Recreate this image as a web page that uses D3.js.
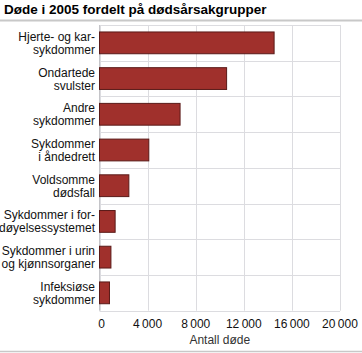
<!DOCTYPE html>
<html>
<head>
<meta charset="utf-8">
<script src="https://d3js.org/d3.v7.min.js"></script>
<style>
  body { margin: 0; background: #fff; }
  text { font-family: "Liberation Sans", Arial, sans-serif; }
</style>
</head>
<body>
<div id="chart"></div>
<script>
  let title = 'Døde i 2005 fordelt på dødsårsakgrupper';
  let categories = [
    ['Hjerte- og kar-', 'sykdommer'],
    ['Ondartede', 'svulster'],
    ['Andre', 'sykdommer'],
    ['Sykdommer', 'i åndedrett'],
    ['Voldsomme', 'dødsfall'],
    ['Sykdommer i for-', 'døyelsessystemet'],
    ['Sykdommer i urin', 'og kjønnsorganer'],
    ['Infeksiøse', 'sykdommer']
  ];
  let deaths = [14520, 10570, 6700, 4100, 2440, 1300, 950, 830];
  let ticks = [0, 4000, 8000, 12000, 16000, 20000];
  let axisTitle = 'Antall døde';

  let width = 362, height = 353;
  let margin = {top: 25, left: 99.5, right: 22, bottom: 42};

  let svg = d3.select('#chart').append('svg')
    .attr('width', width)
    .attr('height', height);

  // title and rules
  svg.append('text')
    .attr('x', 4)
    .attr('y', 14)
    .attr('font-size', 13.5)
    .attr('font-weight', 'bold')
    .attr('fill', '#000')
    .text(title);

  svg.append('line')
    .attr('x1', 0).attr('x2', width)
    .attr('y1', 20.5).attr('y2', 20.5)
    .attr('stroke', '#c8c8c8').attr('stroke-width', 2);

  svg.append('line')
    .attr('x1', 0).attr('x2', width)
    .attr('y1', 351.5).attr('y2', 351.5)
    .attr('stroke', '#c8c8c8').attr('stroke-width', 1.5);

  let xScale = d3.scaleLinear()
    .domain([0, 20000])
    .range([margin.left, 340]);

  let yScale = d3.scaleBand()
    .domain(d3.range(categories.length))
    .range([margin.top, 310.7])
    .paddingInner(0.39)
    .paddingOuter(0.195);

  let band = (310.7 - margin.top) / categories.length;

  // grid
  let grid = svg.append('g');
  grid.selectAll('.vgrid')
    .data(ticks)
    .enter().append('line')
    .attr('x1', (d) => Math.round(xScale(d)) + 0.5)
    .attr('x2', (d) => Math.round(xScale(d)) + 0.5)
    .attr('y1', margin.top)
    .attr('y2', 310.7)
    .attr('stroke', '#dcdce0');

  grid.selectAll('.hgrid')
    .data(d3.range(categories.length + 1))
    .enter().append('line')
    .attr('x1', margin.left)
    .attr('x2', xScale(20000))
    .attr('y1', (d) => Math.round(margin.top + d * band) + 0.5)
    .attr('y2', (d) => Math.round(margin.top + d * band) + 0.5)
    .attr('stroke', '#dcdce0');

  // left axis line
  svg.append('line')
    .attr('x1', margin.left).attr('x2', margin.left)
    .attr('y1', margin.top).attr('y2', 310.7)
    .attr('stroke', '#c4c4c8');

  // bars
  svg.selectAll('.bar')
    .data(deaths)
    .enter().append('rect')
    .attr('x', xScale(0))
    .attr('y', (d, i) => yScale(i))
    .attr('width', (d) => xScale(d) - xScale(0))
    .attr('height', yScale.bandwidth())
    .attr('fill', '#a0302c')
    .attr('stroke', '#5a1a18')
    .attr('stroke-width', 1);

  // category labels
  let labels = svg.selectAll('.label')
    .data(categories)
    .enter().append('text')
    .attr('text-anchor', 'end')
    .attr('font-size', 12)
    .attr('fill', '#111');

  labels.each(function (d, i) {
    let cy = yScale(i) + yScale.bandwidth() / 2;
    d3.select(this).selectAll('tspan')
      .data(d)
      .enter().append('tspan')
      .attr('x', 95)
      .attr('y', (t, j) => cy - 2 + j * 13)
      .text((t) => t);
  });

  // x tick labels
  svg.selectAll('.tick')
    .data(ticks)
    .enter().append('text')
    .attr('x', (d) => xScale(d) + (d === 0 ? 2 : 0))
    .attr('y', 328)
    .attr('text-anchor', 'middle')
    .attr('font-size', 12)
    .attr('fill', '#111')
    .text((d) => d3.format(',')(d).replace(/,/g, '\u2009'));

  svg.append('text')
    .attr('x', xScale(10000))
    .attr('y', 344)
    .attr('text-anchor', 'middle')
    .attr('font-size', 12)
    .attr('fill', '#333')
    .text(axisTitle);
</script>
</body>
</html>
